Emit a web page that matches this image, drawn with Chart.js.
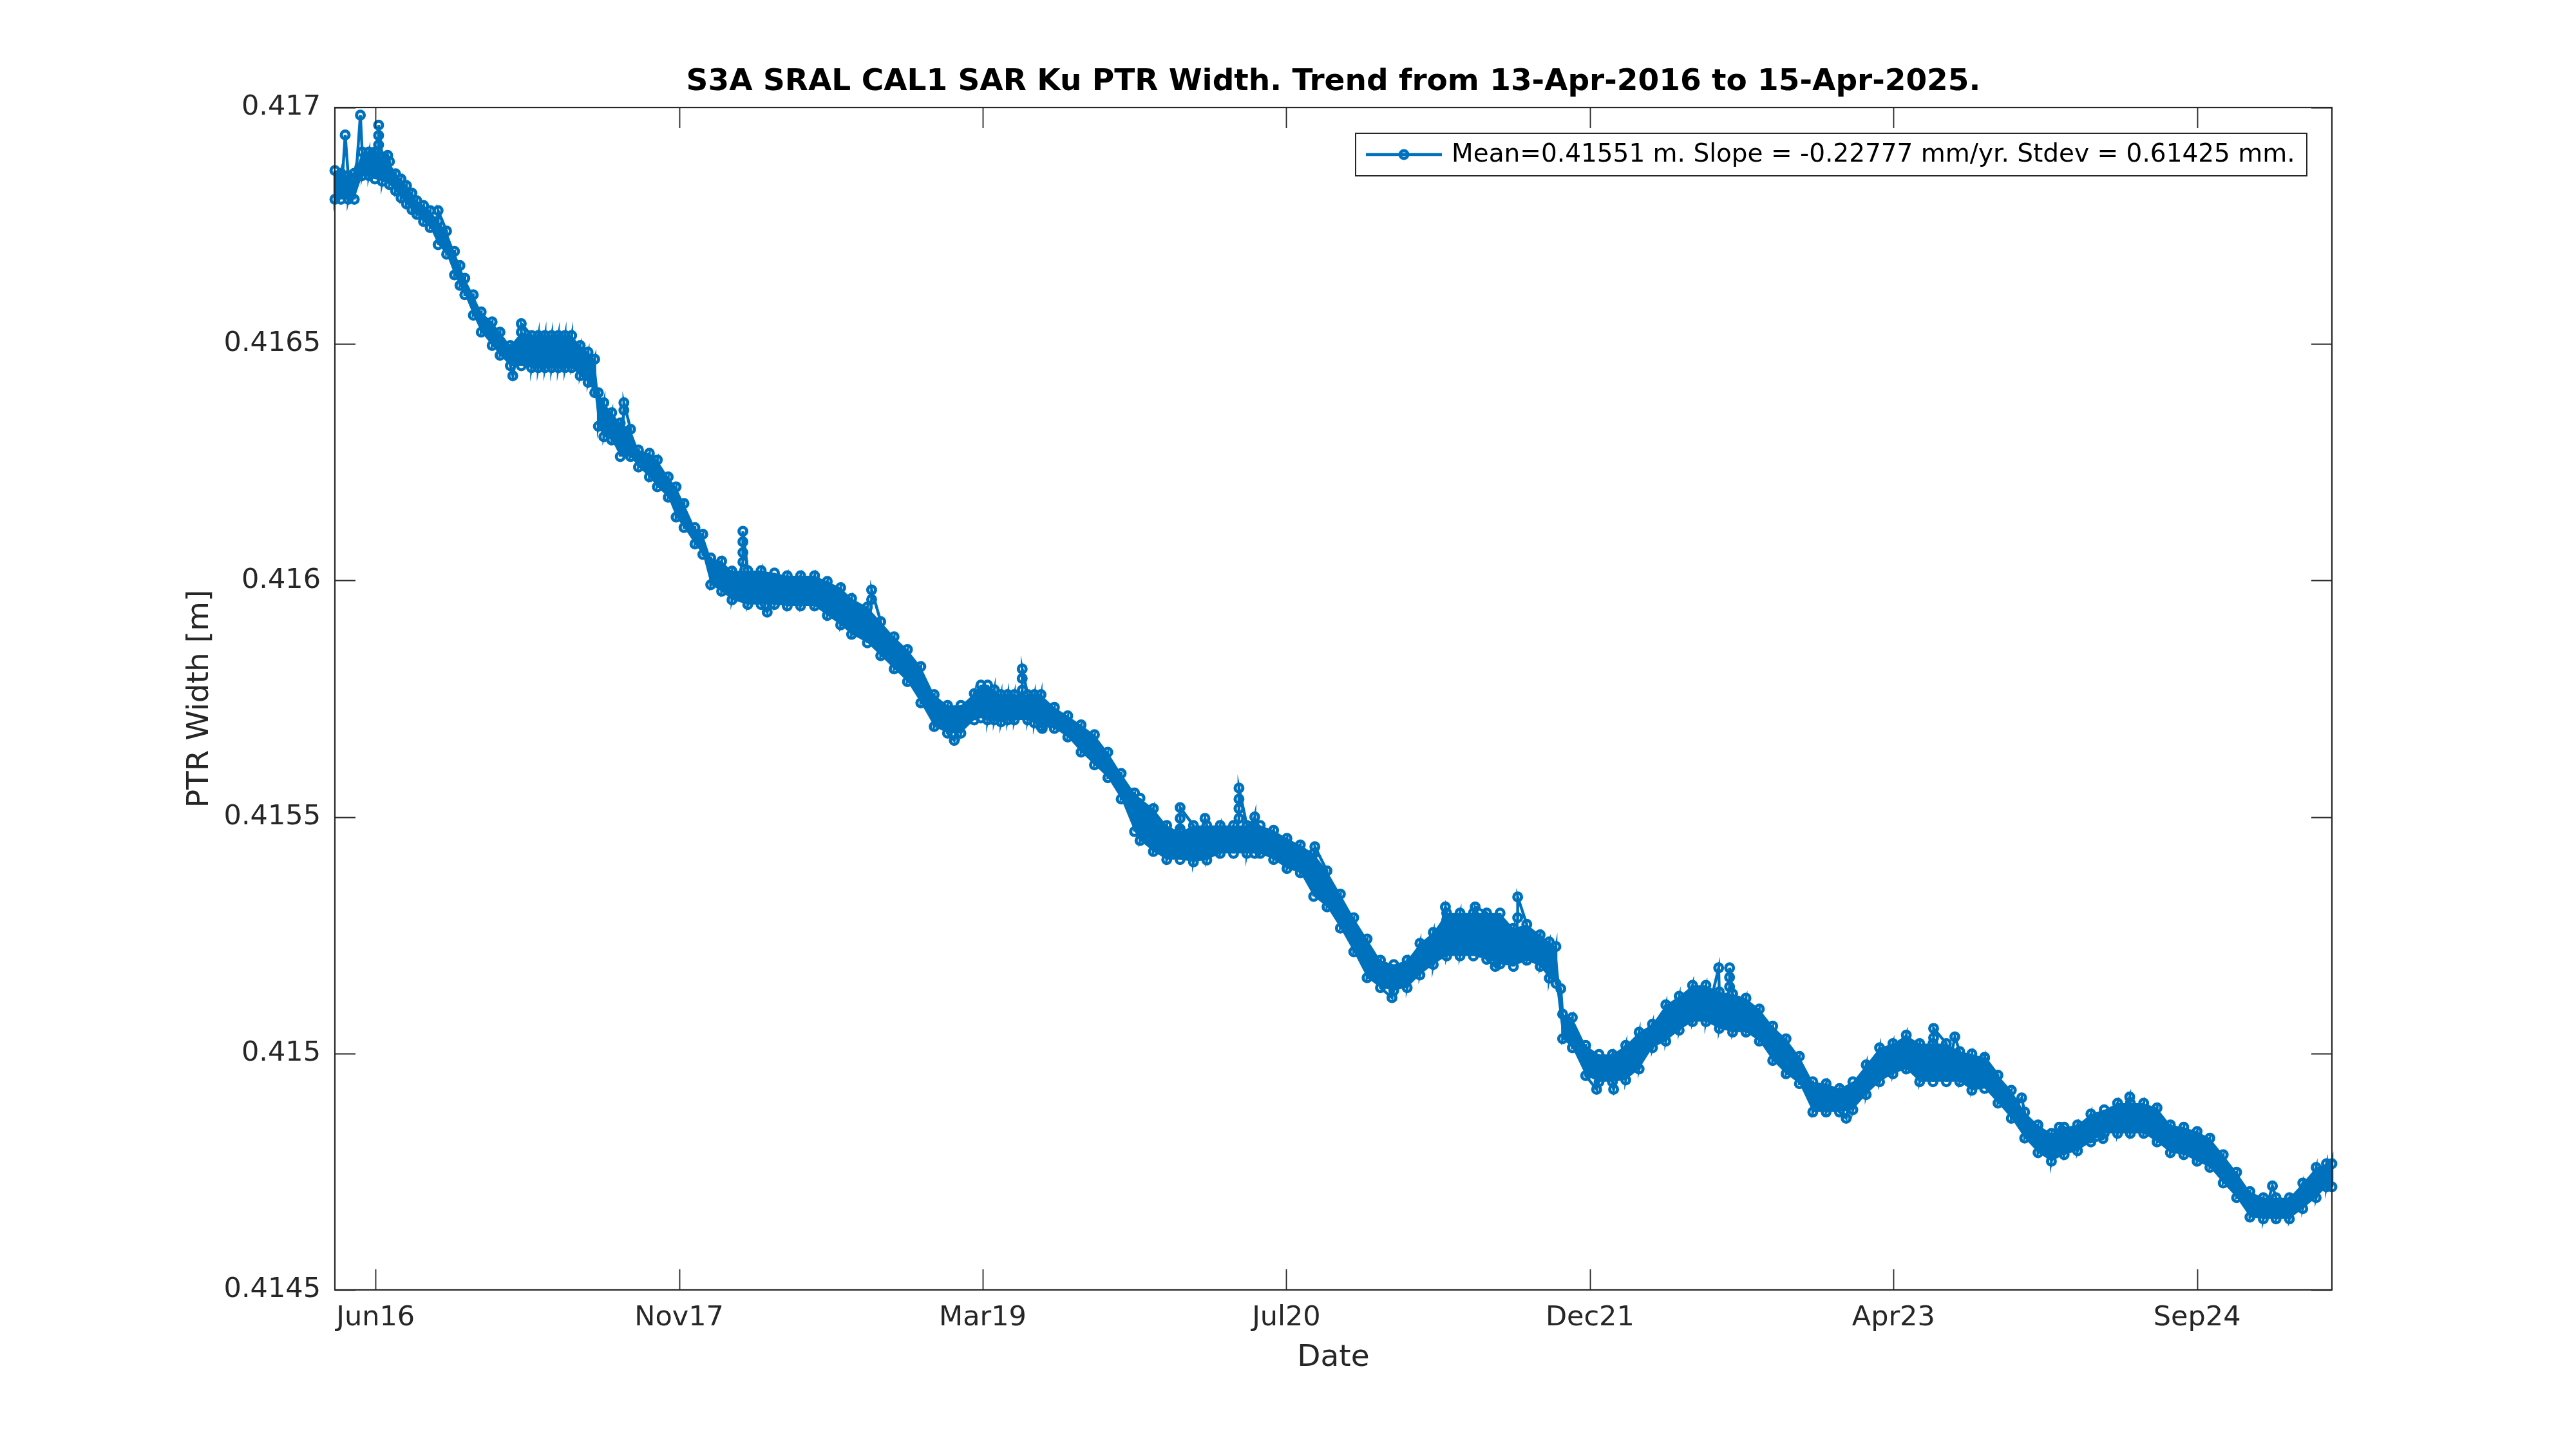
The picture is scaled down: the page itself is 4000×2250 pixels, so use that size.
<!DOCTYPE html>
<html><head><meta charset="utf-8">
<script src="https://cdn.jsdelivr.net/npm/chart.js@4.4.1/dist/chart.umd.min.js"></script>
<style>html,body{margin:0;padding:0;background:#fff;}canvas{display:block;}</style>
</head><body>
<canvas id="c" width="4000" height="2250" style="width:4000px;height:2250px"></canvas>
<script>
// ---- data (x = days since 13-Apr-2016, y = PTR width in metres) ----
const titleText = 'S3A SRAL CAL1 SAR Ku PTR Width. Trend from 13-Apr-2016 to 15-Apr-2025.';
const legendText = 'Mean=0.41551 m. Slope = -0.22777 mm/yr. Stdev = 0.61425 mm.';
const xTickDays = [67, 567, 1067, 1567, 2067, 2567, 3067];
const xTickLabels = ['Jun16', 'Nov17', 'Mar19', 'Jul20', 'Dec21', 'Apr23', 'Sep24'];
const yTickVals = [0.4145, 0.415, 0.4155, 0.416, 0.4165, 0.417];
const yTickLabels = ['0.4145', '0.415', '0.4155', '0.416', '0.4165', '0.417'];

const sampleDays = [0,10,22,32,45,56,66,78,90,100,109,118,127,135,146,157,170,184,197,206,214,228,241,259,272,289,307,324,335,346,357,368,379,390,404,417,428,434,443,456,470,487,500,518,531,549,562,575,593,606,619,637,654,680,702,724,745,767,790,811,833,851,877,899,921,943,965,987,1009,1031,1053,1064,1075,1086,1097,1108,1119,1141,1152,1163,1185,1207,1229,1251,1273,1295,1317,1326,1348,1370,1392,1414,1436,1458,1480,1502,1515,1524,1546,1568,1590,1612,1634,1656,1678,1700,1722,1744,1766,1787,1809,1831,1853,1875,1897,1919,1941,1963,1985,2000,2011,2022,2038,2060,2082,2104,2126,2148,2170,2192,2214,2236,2258,2280,2302,2324,2346,2368,2390,2412,2434,2456,2478,2500,2522,2544,2566,2588,2610,2632,2654,2676,2696,2717,2739,2761,2783,2805,2827,2848,2870,2892,2914,2936,2957,2979,3001,3023,3045,3067,3088,3110,3132,3154,3176,3197,3219,3241,3263,3280,3289];

// upper edge of the scatter band at each sample day
const upperVals = [0.416867,0.416861,0.416856,0.416861,0.416906,0.416906,0.416906,0.416896,0.416886,0.416860,0.416849,0.416835,0.416819,0.416803,0.416793,0.416782,0.416760,0.416739,0.416696,0.416666,0.416639,0.416604,0.416568,0.416547,0.416525,0.416497,0.416525,0.416518,0.416518,0.416518,0.416518,0.416518,0.416518,0.416518,0.416497,0.416483,0.416468,0.416397,0.416376,0.416355,0.416333,0.416320,0.416276,0.416269,0.416255,0.416219,0.416198,0.416163,0.416112,0.416098,0.416048,0.416041,0.416020,0.416021,0.416021,0.416016,0.416010,0.416010,0.416010,0.415998,0.415985,0.415962,0.415944,0.415913,0.415881,0.415854,0.415818,0.415759,0.415736,0.415736,0.415761,0.415779,0.415779,0.415769,0.415759,0.415759,0.415759,0.415759,0.415759,0.415759,0.415732,0.415714,0.415695,0.415674,0.415637,0.415592,0.415551,0.415540,0.415518,0.415482,0.415468,0.415482,0.415482,0.415482,0.415482,0.415482,0.415500,0.415482,0.415472,0.415455,0.415441,0.415423,0.415386,0.415337,0.415287,0.415242,0.415197,0.415188,0.415197,0.415233,0.415256,0.415297,0.415297,0.415297,0.415297,0.415297,0.415265,0.415273,0.415251,0.415236,0.415226,0.415083,0.415076,0.415017,0.414998,0.414998,0.415017,0.415045,0.415062,0.415103,0.415121,0.415144,0.415144,0.415130,0.415126,0.415117,0.415094,0.415058,0.415031,0.414994,0.414940,0.414936,0.414926,0.414940,0.414976,0.415012,0.415021,0.415039,0.415021,0.415021,0.415021,0.415004,0.414999,0.414991,0.414954,0.414922,0.414876,0.414849,0.414831,0.414844,0.414849,0.414872,0.414881,0.414895,0.414895,0.414895,0.414885,0.414849,0.414844,0.414835,0.414821,0.414786,0.414749,0.414708,0.414695,0.414695,0.414695,0.414726,0.414759,0.414767,0.414767];

// lower edge of the scatter band at each sample day
const lowerVals = [0.416806,0.416806,0.416806,0.416806,0.416856,0.416856,0.416849,0.416844,0.416837,0.416824,0.416809,0.416796,0.416784,0.416774,0.416759,0.416746,0.416710,0.416690,0.416646,0.416624,0.416604,0.416561,0.416525,0.416497,0.416476,0.416454,0.416454,0.416450,0.416450,0.416450,0.416450,0.416450,0.416450,0.416450,0.416433,0.416419,0.416397,0.416326,0.416304,0.416297,0.416262,0.416262,0.416240,0.416219,0.416198,0.416176,0.416134,0.416112,0.416077,0.416055,0.415991,0.415977,0.415959,0.415949,0.415949,0.415949,0.415946,0.415946,0.415946,0.415926,0.415906,0.415886,0.415868,0.415841,0.415813,0.415786,0.415741,0.415691,0.415677,0.415677,0.415705,0.415709,0.415705,0.415705,0.415701,0.415705,0.415705,0.415705,0.415699,0.415691,0.415687,0.415669,0.415637,0.415610,0.415583,0.415538,0.415469,0.415450,0.415427,0.415410,0.415410,0.415405,0.415409,0.415423,0.415423,0.415423,0.415423,0.415423,0.415410,0.415391,0.415382,0.415332,0.415310,0.415265,0.415215,0.415160,0.415139,0.415133,0.415139,0.415166,0.415188,0.415206,0.415206,0.415206,0.415199,0.415189,0.415184,0.415197,0.415184,0.415159,0.415148,0.415031,0.415012,0.414953,0.414940,0.414940,0.414944,0.414967,0.415012,0.415026,0.415049,0.415067,0.415067,0.415053,0.415045,0.415045,0.415026,0.414985,0.414957,0.414936,0.414876,0.414876,0.414876,0.414881,0.414913,0.414940,0.414957,0.414967,0.414940,0.414940,0.414940,0.414940,0.414922,0.414926,0.414895,0.414863,0.414821,0.414790,0.414772,0.414786,0.414794,0.414813,0.414831,0.414831,0.414831,0.414831,0.414813,0.414790,0.414786,0.414772,0.414759,0.414726,0.414695,0.414654,0.414650,0.414650,0.414650,0.414672,0.414695,0.414718,0.414718];

// isolated outliers (chains share a day)
const spikeDays = [17,42,72,72,72,87,170,293,307,476,476,672,672,672,672,712,884,884,1020,1132,1132,1132,1165,1392,1392,1392,1433,1489,1489,1489,1489,1614,1741,1829,1878,1911,1948,1948,2019,2078,2106,2279,2297,2297,2297,2489,2633,2633,2668,2717,2778,2840,2912,2956,3191];
const spikeVals = [0.416942,0.416984,0.416921,0.416941,0.416963,0.416899,0.416782,0.416433,0.416543,0.416360,0.416376,0.416039,0.416059,0.416082,0.416104,0.415933,0.415960,0.415980,0.415662,0.415768,0.415793,0.415813,0.415687,0.415475,0.415497,0.415520,0.415497,0.415497,0.415518,0.415538,0.415561,0.415437,0.415118,0.415310,0.415310,0.415184,0.415287,0.415331,0.415137,0.414924,0.414924,0.415181,0.415141,0.415161,0.415181,0.414863,0.415033,0.415053,0.415035,0.414992,0.414906,0.414844,0.414820,0.414908,0.414720];

// ---- build the measured sequence in time order ----
const series = [];
sampleDays.forEach((d, i) => { series.push({x: d, y: upperVals[i]}); series.push({x: d, y: lowerVals[i]}); });
spikeDays.forEach((d, i) => series.push({x: d, y: spikeVals[i]}));
series.sort((a, b) => a.x - b.x);

const BLUE = '#0072BD';
const AXC = '#262626';
const FONT = 'DejaVu Sans';

const framePlugin = {
  id: 'frame',
  afterDraw(chart) {
    const {ctx, chartArea: a, scales: {x, y}} = chart;
    ctx.save();
    ctx.strokeStyle = AXC;
    ctx.lineWidth = 1.8;
    ctx.beginPath();
    xTickDays.forEach(v => {
      const px = Math.round(x.getPixelForValue(v)) + 0.5;
      ctx.moveTo(px, a.bottom); ctx.lineTo(px, a.bottom - 32);
      ctx.moveTo(px, a.top); ctx.lineTo(px, a.top + 32);
    });
    yTickVals.forEach(v => {
      const py = Math.round(y.getPixelForValue(v)) + 0.5;
      ctx.moveTo(a.left, py); ctx.lineTo(a.left + 32, py);
      ctx.moveTo(a.right, py); ctx.lineTo(a.right - 32, py);
    });
    ctx.stroke();
    ctx.lineWidth = 2.2;
    ctx.strokeRect(a.left, a.top, a.right - a.left, a.bottom - a.top);
    // title
    ctx.fillStyle = '#000';
    ctx.font = 'bold 47px "' + FONT + '"';
    ctx.textAlign = 'center';
    ctx.textBaseline = 'middle';
    ctx.fillText(titleText, (a.left + a.right) / 2, 128);
    // legend
    const lx = 2105, ly = 207, lw = 1477, lh = 66;
    ctx.fillStyle = '#fff';
    ctx.fillRect(lx, ly, lw, lh);
    ctx.strokeStyle = AXC;
    ctx.lineWidth = 2;
    ctx.strokeRect(lx, ly, lw, lh);
    const cy = ly + lh / 2;
    ctx.strokeStyle = BLUE;
    ctx.lineWidth = 4.5;
    ctx.beginPath(); ctx.moveTo(2121, cy); ctx.lineTo(2239, cy); ctx.stroke();
    ctx.lineWidth = 5;
    ctx.beginPath(); ctx.arc(2180, cy, 6, 0, Math.PI * 2); ctx.stroke();
    ctx.fillStyle = '#000';
    ctx.font = '39px "' + FONT + '"';
    ctx.textAlign = 'left';
    ctx.fillText(legendText, 2254, cy + 1);
    ctx.restore();
  }
};

new Chart(document.getElementById('c'), {
  type: 'line',
  data: {
    datasets: [
      {data: sampleDays.map((d, i) => ({x: d, y: upperVals[i]})), borderWidth: 0, pointRadius: 0, fill: false, order: 3, borderColor: 'rgba(0,0,0,0)'},
      {data: sampleDays.map((d, i) => ({x: d, y: lowerVals[i]})), borderWidth: 0, pointRadius: 0, fill: '-1', backgroundColor: BLUE, order: 2, borderColor: 'rgba(0,0,0,0)'},
      {data: series, borderColor: BLUE, borderWidth: 4.5, pointRadius: 6, pointBorderWidth: 5,
       pointBorderColor: BLUE, pointBackgroundColor: 'rgba(0,0,0,0)', fill: false, order: 1, clip: false, tension: 0}
    ]
  },
  options: {
    responsive: false, animation: false, devicePixelRatio: 1, events: [],
    layout: {padding: {left: 200, right: 379, top: 167, bottom: 80}},
    plugins: {legend: {display: false}, tooltip: {enabled: false}, title: {display: false}},
    scales: {
      x: {
        type: 'linear', min: 0, max: 3289,
        grid: {display: false, drawTicks: false}, border: {display: false},
        afterBuildTicks: s => { s.ticks = xTickDays.map(v => ({value: v})); },
        afterFit: s => { s.height = 167; },
        ticks: {autoSkip: false, maxRotation: 0, minRotation: 0, padding: 18, color: AXC,
                font: {family: FONT, size: 43}, callback: (v, i) => xTickLabels[i]},
        title: {display: true, text: 'Date', color: AXC, font: {family: FONT, size: 47}, padding: {top: 0, bottom: 33}}
      },
      y: {
        type: 'linear', min: 0.4145, max: 0.417,
        grid: {display: false, drawTicks: false}, border: {display: false},
        afterBuildTicks: s => { s.ticks = yTickVals.map(v => ({value: v})); },
        afterFit: s => { s.width = 320; },
        ticks: {autoSkip: false, padding: 22, color: AXC,
                font: {family: FONT, size: 43}, callback: (v, i) => yTickLabels[i]},
        title: {display: true, text: 'PTR Width [m]', color: AXC, font: {family: FONT, size: 47}, padding: {top: 83, bottom: 0}}
      }
    }
  },
  plugins: [framePlugin]
});
</script>
</body></html>
